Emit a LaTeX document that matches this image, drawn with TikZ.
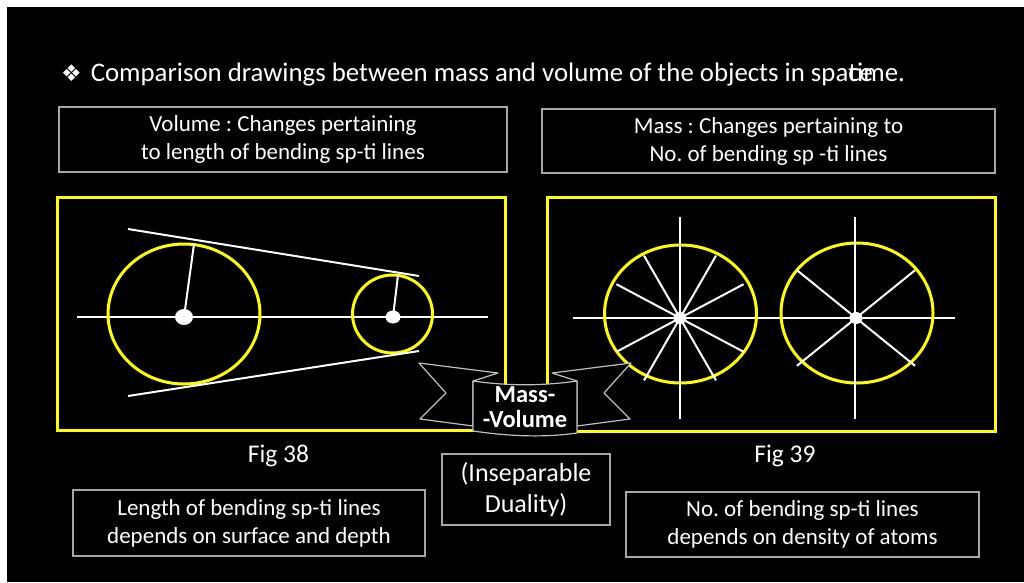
\documentclass[tikz,border=0pt]{standalone}
\usepackage{fontspec}
\usetikzlibrary{shapes.geometric}
\setmainfont{Carlito}
\newfontfamily\symfont{DejaVu Sans}
\definecolor{boxgray}{HTML}{A6A6A6}
\definecolor{bangray}{HTML}{BFBFBF}
\definecolor{figyellow}{HTML}{FFFF00}
\frenchspacing
\begin{document}
\begin{tikzpicture}[x=1pt,y=-1pt,
  txtbox/.style={draw=boxgray, line width=1.3pt, fill=black, text=white, align=center,
    font=\fontsize{23}{28}\selectfont, inner sep=0pt},
  plaintxt/.style={text=white, font=\fontsize{25.5}{30}\selectfont, inner sep=0pt},
  figbox/.style={draw=figyellow, line width=3pt},
  ycirc/.style={draw=figyellow, line width=3pt},
  wline/.style={draw=white, line width=2pt},
  bigdot/.style={fill=white, draw=none, ellipse, inner sep=0pt},
  banner/.style={fill=black, draw=bangray, line width=1.2pt, line join=round}
]
\useasboundingbox (0,0) rectangle (1024,582);
\fill[white] (0,0) rectangle (1024,582);
\fill[black] (7,7) rectangle (1024,582);

% title
\node[anchor=base west, text=white, inner sep=0pt] (title) at (61,81)
  {{\symfont\fontsize{23}{24}\selectfont ❖}\hspace{9pt}{\fontsize{26.8}{30}\selectfont Comparison drawings between mass and volume of the objects in spa\rlap{ce}time.}};

% top boxes
\node[txtbox, minimum width=448pt, minimum height=65pt] (tl) at (283,139.5)
  {Volume : Changes pertaining\\to length of bending sp-ti lines};
\node[txtbox, minimum width=453pt, minimum height=64pt] (tr) at (768.5,141)
  {Mass : Changes pertaining to\\ No. of bending sp -ti lines};

% figure frames
\draw[figbox] (57,197) rectangle (505,430);
\draw[figbox] (547,197) rectangle (995,431);

% ---- Fig 38 ----
\draw[wline] (77,317) -- (488,317);
\draw[ycirc] (184,314) ellipse [x radius=76pt, y radius=70pt];
\draw[ycirc] (392.5,314) ellipse [x radius=40pt, y radius=39pt];
\node[bigdot, minimum width=18pt, minimum height=16pt] (bd) at (184,317) {};
\node[bigdot, minimum width=15pt, minimum height=13pt] (sd) at (393,317) {};
\coordinate (br) at (194,244);
\coordinate (sr) at (398,275);
\draw[wline] (bd.center) -- (br);
\draw[wline] (sd.center) -- (sr);
\coordinate (ta) at (128,229); \coordinate (tb) at (419,276);
\coordinate (ua) at (128,396); \coordinate (ub) at (419,351);
\draw[wline] (ta) -- (tb);
\draw[wline] (ua) -- (ub);

% ---- Fig 39 ----
\draw[wline] (573,318) -- (955,318);
\draw[ycirc] (680.5,314) ellipse [x radius=76pt, y radius=69pt];
\draw[ycirc] (857,313) ellipse [x radius=76pt, y radius=70pt];
\draw[wline] (680,217) -- (680,419);
\draw[wline] (855,217) -- (855,419);
\node[bigdot, minimum width=13pt, minimum height=12pt] (c1) at (680,318) {};
\node[bigdot, minimum width=13pt, minimum height=12pt] (c2) at (856,318) {};
\foreach \a in {28,60,120,152,208,240,300,332}
  \draw[wline] (c1.center) -- ++(\a:72);
\foreach \a in {39,141,219,321}
  \draw[wline] (c2.center) -- ++(\a:76);

% ---- banner ----
\draw[banner] (419,363) -- (498,373) -- (473,381) -- (473,426) -- (420,419) -- (446,393) -- cycle;
\draw[banner] (631,363) -- (552,373) -- (577,381) -- (577,426) -- (630,419) -- (604,393) -- cycle;
\draw[banner] (473,381) .. controls (508,386) and (542,386) .. (577,381)
  -- (577,433) .. controls (542,438) and (508,436) .. (473,431) -- cycle;
\node[text=white, align=center, inner sep=0pt, font=\bfseries\fontsize{24.5}{25}\selectfont] (mv) at (525,407.5) {Mass-\\-Volume};

% captions
\node[plaintxt, anchor=base] (f38) at (278.5,462) {Fig 38};
\node[plaintxt, anchor=base] (f39) at (785,462) {Fig 39};

% bottom boxes
\node[txtbox, minimum width=168pt, minimum height=71pt, font=\fontsize{26}{31}\selectfont] (dual) at (526,489.5)
  {(Inseparable\\Duality)};
\node[txtbox, minimum width=352pt, minimum height=66pt] (bl) at (249,523)
  {Length of bending sp-ti lines\\depends on surface and depth};
\node[txtbox, minimum width=353pt, minimum height=65pt] (brx) at (802.5,524.5)
  {No. of bending sp-ti lines\\depends on density of atoms};
\end{tikzpicture}
\end{document}
